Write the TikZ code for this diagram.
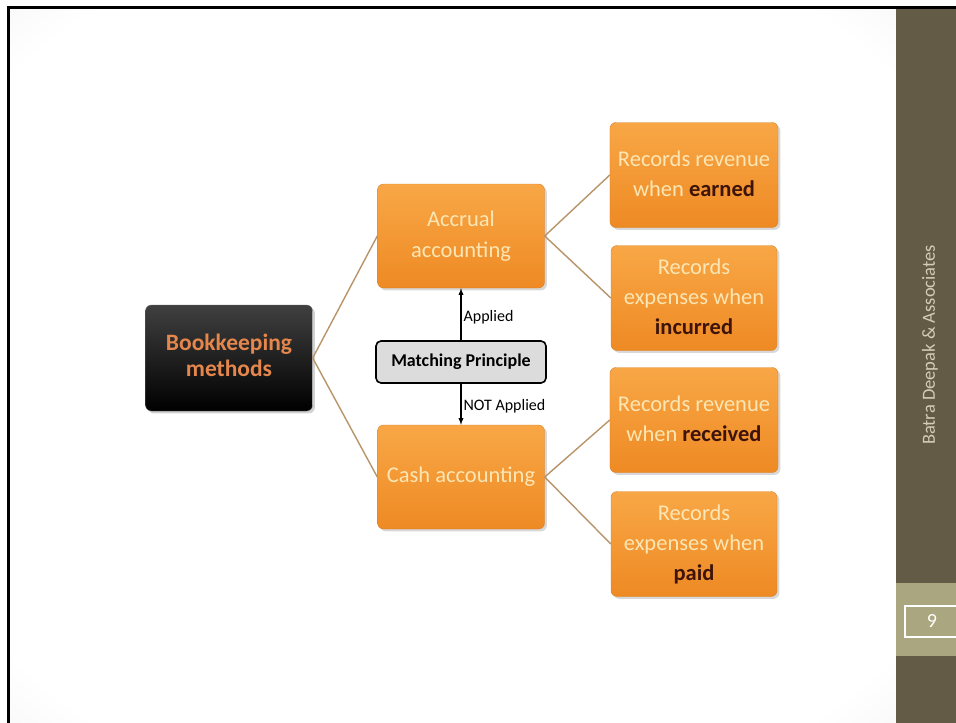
\documentclass[tikz,border=0pt]{standalone}
\usepackage{fontspec}
\setmainfont{Carlito}
\usetikzlibrary{shadows}

\definecolor{slidegray}{HTML}{E2E2E2}
\definecolor{barolive}{HTML}{645B46}
\definecolor{barlight}{HTML}{AAA67F}
\definecolor{bartext}{HTML}{D2CDB8}
\definecolor{orangetop}{HTML}{F8A746}
\definecolor{orangebot}{HTML}{EE8A24}
\definecolor{orangeedge}{HTML}{D9822C}
\definecolor{creamtext}{HTML}{FCE6B4}
\definecolor{darkword}{HTML}{3E140A}
\definecolor{roottext}{HTML}{E5864C}
\definecolor{branchline}{HTML}{B8946A}
\definecolor{principlefill}{HTML}{DCDCDC}

\pgfdeclareradialshading{vignette}{\pgfpoint{0bp}{0bp}}{color(0bp)=(white); color(32bp)=(white); color(50bp)=(slidegray)}

\begin{document}
\begin{tikzpicture}[x=1pt, y=-1pt,
    rootbox/.style = {rectangle, draw=black!60, top color=black!75, bottom color=black, rounded corners=6pt, minimum width=167pt, minimum height=106pt, inner sep=2pt, text=roottext, font=\fontsize{23.5}{26}\selectfont\bfseries, drop shadow={opacity=0.35}},
    methodbox/.style = {rectangle, draw=orangeedge, top color=orangetop, bottom color=orangebot, rounded corners=6pt, minimum width=167pt, minimum height=104pt, inner sep=2pt, text=creamtext, font=\fontsize{22.5}{31}\selectfont, drop shadow={opacity=0.3}},
    rulebox/.style = {methodbox, minimum width=166pt, minimum height=105pt, font=\fontsize{22.5}{30}\selectfont},
    principle/.style = {rectangle, draw=black, line width=1.6pt, fill=principlefill, rounded corners=5pt, minimum width=170pt, minimum height=42pt, inner sep=2pt, font=\fontsize{18}{21}\selectfont\bfseries},
    tag/.style = {font=\fontsize{16}{19}\selectfont, inner sep=2pt},
    branch/.style = {draw=branchline, line width=1.4pt},
    line/.style = {draw, -latex, line width=1.3pt}
]
    % Slide background and side bar
    \useasboundingbox (0,0) rectangle (956,723);
    \fill[white] (0,0) rectangle (956,723);
    \shade[shading=vignette] (9,9) rectangle (896,723);
    \draw[line width=3pt] (8.5,723) -- (8.5,7.5) -- (956,7.5);
    \fill[barolive] (896,9) rectangle (956,723);
    \fill[barlight] (896,583) rectangle (956,656);
    \draw[white, line width=1.5pt] (905,606) rectangle (960,637);
    \node [text=bartext, rotate=90, font=\fontsize{18.5}{20}\selectfont] (firm) at (930, 345) {Batra Deepak \& Associates};
    \node [text=white, font=\fontsize{20}{22}\selectfont] (pageno) at (932, 621) {9};

    % Nodes
    \node [rootbox] (bookkeeping) at (229, 358) {\begin{tabular}{c}Bookkeeping \\ methods\end{tabular}};
    \node [methodbox] (accrual) at (461, 236) {\begin{tabular}{c}Accrual \\ accounting\end{tabular}};
    \node [methodbox] (cash) at (461, 477) {Cash accounting};
    \node [principle] (matching) at (461, 362) {Matching Principle};

    \node [rulebox] (earned) at (694, 175) {\begin{tabular}{c}Records revenue \\ when \textcolor{darkword}{\textbf{earned}}\end{tabular}};
    \node [rulebox] (incurred) at (694, 298) {\begin{tabular}{c}Records \\ expenses when \\ \textcolor{darkword}{\textbf{incurred}}\end{tabular}};
    \node [rulebox] (received) at (694, 420) {\begin{tabular}{c}Records revenue \\ when \textcolor{darkword}{\textbf{received}}\end{tabular}};
    \node [rulebox] (paid) at (694, 544) {\begin{tabular}{c}Records \\ expenses when \\ \textcolor{darkword}{\textbf{paid}}\end{tabular}};

    % Edges
    \path [branch] (bookkeeping.east) -- (accrual.west);
    \path [branch] (bookkeeping.east) -- (cash.west);
    \path [branch] (accrual.east) -- (earned.west);
    \path [branch] (accrual.east) -- (incurred.west);
    \path [branch] (cash.east) -- (received.west);
    \path [branch] (cash.east) -- (paid.west);

    \path [line] (matching) -- node [tag, right, pos=0.45] (applied) {Applied} (accrual);
    \path [line] (matching) -- node [tag, right, pos=0.55] (notapplied) {NOT Applied} (cash);

\end{tikzpicture}
\end{document}
